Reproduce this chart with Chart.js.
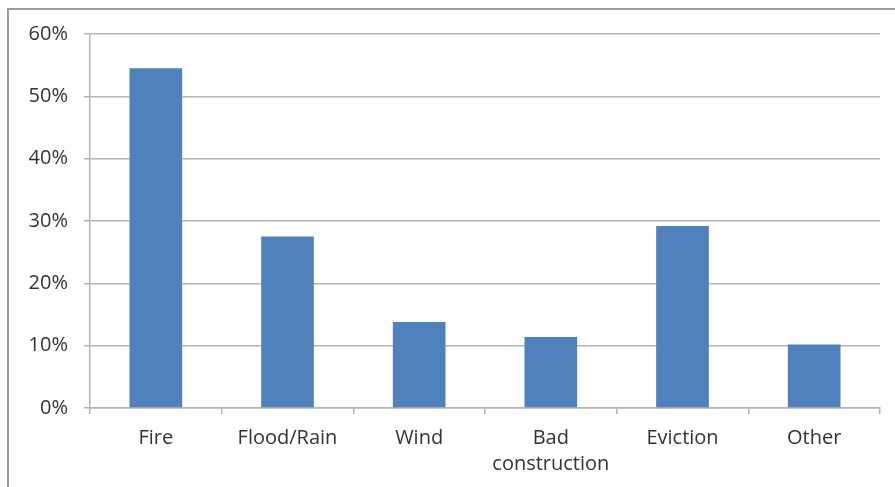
<!DOCTYPE html>
<html>
<head>
<meta charset="utf-8">
<script src="https://cdn.jsdelivr.net/npm/chart.js@4"></script>
<style>
  html, body { margin: 0; padding: 0; background: #fff; }
  #wrap { position: relative; width: 895px; height: 487px; }
</style>
</head>
<body>
<div id="wrap"><canvas id="c" width="895" height="487"></canvas></div>
<script>
// Causes of housing loss, share of respondents (%)
const categories = ['Fire', 'Flood/Rain', 'Wind', ['Bad', 'construction'], 'Eviction', 'Other'];
const shares = [54.5, 27.5, 13.8, 11.4, 29.2, 10.2];
const yTicks = [0, 10, 20, 30, 40, 50, 60];

const textColor = '#333333';
const gridColor = '#b4b4b4';
const fontFamily = '"Open Sans", "Noto Sans", sans-serif';

// Outer frame around the chart
const framePlugin = {
  id: 'frame',
  beforeDraw(chart) {
    const ctx = chart.ctx;
    ctx.save();
    ctx.fillStyle = '#fff';
    ctx.fillRect(0, 0, chart.width, chart.height);
    ctx.strokeStyle = '#9c9c9c';
    ctx.lineWidth = 2;
    ctx.strokeRect(8, 9, 950, 600);
    ctx.restore();
  }
};

new Chart(document.getElementById('c'), {
  type: 'bar',
  data: {
    labels: categories,
    datasets: [{
      data: shares,
      backgroundColor: '#4f81bd',
      borderWidth: 0,
      barPercentage: 0.4,
      categoryPercentage: 1.0
    }]
  },
  options: {
    responsive: false,
    animation: false,
    devicePixelRatio: 1,
    layout: { padding: { top: 34, right: 15, left: 0, bottom: 0 } },
    plugins: {
      legend: { display: false },
      tooltip: { enabled: false }
    },
    scales: {
      x: {
        offset: true,
        grid: {
          display: true,
          offset: true,
          drawOnChartArea: false,
          drawTicks: true,
          tickLength: 6,
          color: gridColor,
          lineWidth: 1.5
        },
        border: { display: true, color: gridColor, width: 1.5 },
        ticks: {
          color: textColor,
          font: { family: fontFamily, size: 20, lineHeight: 1.3 },
          padding: 11,
          maxRotation: 0,
          autoSkip: false
        },
        afterFit(scale) { scale.height = 79; }
      },
      y: {
        min: 0,
        max: 60,
        afterBuildTicks(scale) { scale.ticks = yTicks.map(v => ({ value: v })); },
        grid: {
          color: gridColor,
          lineWidth: 1.5,
          drawTicks: true,
          tickLength: 6
        },
        border: { display: true, color: gridColor, width: 1.5 },
        ticks: {
          color: textColor,
          font: { family: fontFamily, size: 20 },
          padding: 16,
          callback: v => v + '%'
        },
        afterFit(scale) { scale.width = 90; }
      }
    }
  },
  plugins: [framePlugin]
});
</script>
</body>
</html>
